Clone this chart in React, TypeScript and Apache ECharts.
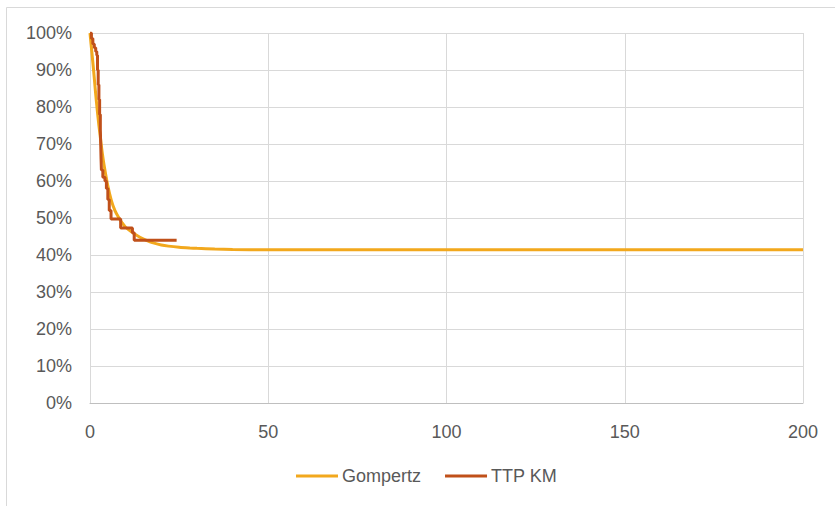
import React, { useEffect, useRef } from "react";
import * as echarts from "echarts";

const xTicks = [0, 50, 100, 150, 200];
const yTickLabels = ["0%", "10%", "20%", "30%", "40%", "50%", "60%", "70%", "80%", "90%", "100%"];

const gompertzT = [0, 0.5, 1, 1.5, 2, 2.5, 3, 3.5, 4, 5, 6, 7, 8, 9, 10, 12, 14, 16, 18, 20, 22, 25, 28, 30, 35, 40, 50, 200];
const gompertzS = [1.0, 0.95, 0.9, 0.845, 0.795, 0.75, 0.71, 0.672, 0.64, 0.587, 0.547, 0.52, 0.502, 0.487, 0.475, 0.46, 0.448, 0.439, 0.432, 0.427, 0.424, 0.421, 0.419, 0.418, 0.416, 0.415, 0.414, 0.414];

const kmT = [0, 0.4, 0.8, 1.2, 1.6, 1.9, 2.1, 2.3, 2.5, 2.7, 2.9, 3.0, 3.1, 3.2, 3.6, 4.2, 4.6, 5.0, 5.4, 5.9, 8.6, 11.9, 12.4, 24.3];
const kmS = [1.0, 0.985, 0.97, 0.96, 0.95, 0.94, 0.9, 0.86, 0.82, 0.78, 0.74, 0.7, 0.66, 0.63, 0.61, 0.6, 0.58, 0.55, 0.52, 0.497, 0.473, 0.46, 0.44, 0.44];

const seriesNames = ["Gompertz", "TTP KM"];
const colors = ["#F2A81D", "#C0501A"];

export default function App() {
  const ref = useRef<HTMLDivElement>(null);
  useEffect(() => {
    if (!ref.current) return;
    const chart = echarts.init(ref.current, null, { renderer: "svg" });
    const font = "Liberation Sans";
    chart.setOption({
      animation: false,
      backgroundColor: "#ffffff",
      graphic: [
        {
          type: "rect",
          shape: { x: 6.5, y: 7.5, width: 900, height: 600 },
          style: { fill: "none", stroke: "#d9d9d9", lineWidth: 1 },
          silent: true,
        },
      ],
      grid: { left: 90, right: 32, top: 33, bottom: 103 },
      legend: {
        top: 462,
        left: 291,
        itemWidth: 42,
        itemHeight: 3,
        itemGap: 24,
        icon: "rect",
        textStyle: { fontFamily: font, fontSize: 18, color: "#595959", padding: [0, 0, 0, -1] },
        data: seriesNames,
      },
      xAxis: {
        type: "value",
        min: 0,
        max: 200,
        interval: 50,
        axisLine: { show: true, lineStyle: { color: "#bfbfbf", width: 1 } },
        axisTick: { show: false },
        axisLabel: {
          fontFamily: font,
          fontSize: 18,
          color: "#595959",
          margin: 20,
          formatter: (v: number) => (xTicks.includes(v) ? String(v) : ""),
        },
        splitLine: { show: true, lineStyle: { color: "#d9d9d9", width: 1 } },
      },
      yAxis: {
        type: "value",
        min: 0,
        max: 1,
        interval: 0.1,
        axisLine: { show: true, lineStyle: { color: "#d9d9d9", width: 1 } },
        axisTick: { show: false },
        axisLabel: {
          fontFamily: font,
          fontSize: 18,
          color: "#595959",
          margin: 18,
          formatter: (v: number) => yTickLabels[Math.round(v * 10)] ?? "",
        },
        splitLine: { show: true, lineStyle: { color: "#d9d9d9", width: 1 } },
      },
      series: [
        {
          name: seriesNames[0],
          type: "line",
          showSymbol: false,
          symbol: "none",
          smooth: 0.3,
          lineStyle: { color: colors[0], width: 3 },
          itemStyle: { color: colors[0] },
          data: gompertzT.map((t, i) => [t, gompertzS[i]]),
          z: 2,
        },
        {
          name: seriesNames[1],
          type: "line",
          showSymbol: false,
          symbol: "none",
          step: "end",
          lineStyle: { color: colors[1], width: 3 },
          itemStyle: { color: colors[1] },
          data: kmT.map((t, i) => [t, kmS[i]]),
          z: 3,
        },
      ],
    });
    return () => chart.dispose();
  }, []);
  return (
    <div
      ref={ref}
      style={{ position: "fixed", left: 0, top: 0, width: 835, height: 506, background: "#fff" }}
    />
  );
}
